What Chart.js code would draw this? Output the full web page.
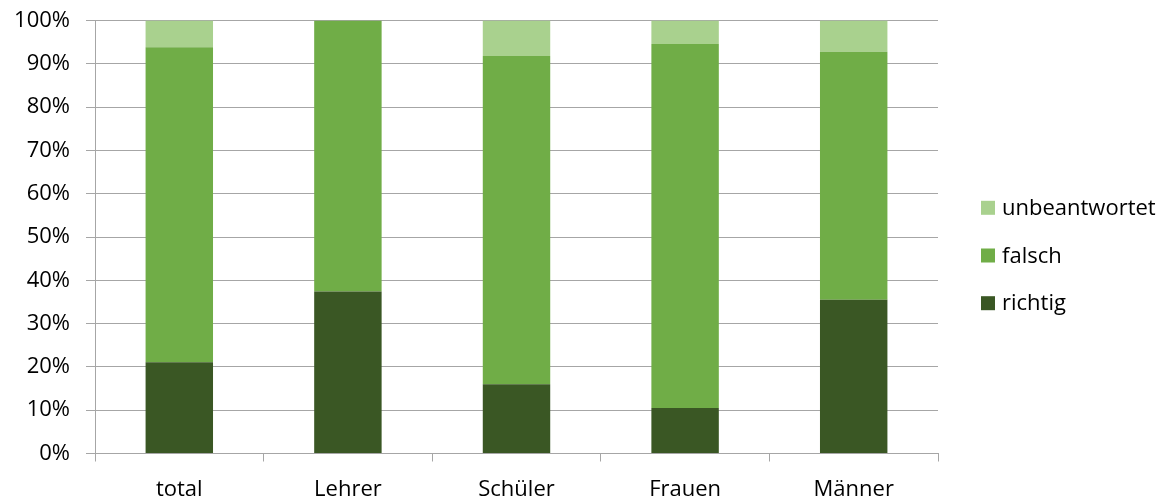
<!DOCTYPE html>
<html lang="de">

<head>
    <meta charset="UTF-8">
    <title>Antworten</title>
    <script src="https://cdn.jsdelivr.net/npm/chart.js"></script>
    <style>
        html, body { margin: 0; padding: 0; background: #fff; }
        .grafico { position: relative; width: 1168px; height: 497px; }
    </style>
</head>

<body>
    <div class="grafico">
        <canvas id="grafico_antworten"></canvas>
    </div>
</body>

<script>

// Gruppen und Anteile (in %)
const kategorien = ['total', 'Lehrer', 'Schüler', 'Frauen', 'Männer'];
const richtig = [21.1, 37.4, 16.0, 10.5, 35.5];
const falsch = [72.7, 62.6, 75.8, 84.1, 57.3];
const unbeantwortet = [6.2, 0, 8.2, 5.4, 7.2];

const y_ticks = [0, 10, 20, 30, 40, 50, 60, 70, 80, 90, 100];

const schrift = "'Open Sans', sans-serif";
const grau = '#A6A6A6';

// Legende rechts, von oben nach unten (umgekehrte Reihenfolge der Stapel)
const legendeRechts = {
  id: 'legendeRechts',
  afterDraw(chart) {
    const ctx = chart.ctx;
    const area = chart.chartArea;
    const sets = chart.data.datasets.slice().reverse();
    const x = area.right + 43;
    const abstand = 47.7;
    const mitte = 255.5;
    const start = mitte - abstand * (sets.length - 1) / 2;
    ctx.save();
    ctx.font = '22px ' + schrift;
    ctx.textBaseline = 'middle';
    sets.forEach(function (ds, i) {
      const y = start + i * abstand;
      ctx.fillStyle = ds.backgroundColor;
      ctx.fillRect(x, y - 7, 14, 14);
      ctx.fillStyle = '#000';
      ctx.fillText(ds.label, x + 21, y + 1);
    });
    ctx.restore();
  }
};

const data_antworten = {
  labels: kategorien,
  datasets: [
    { label: 'richtig', data: richtig, backgroundColor: '#3A5724' },
    { label: 'falsch', data: falsch, backgroundColor: '#70AD47' },
    { label: 'unbeantwortet', data: unbeantwortet, backgroundColor: '#A9D18E' }
  ]
};

const config_antworten = {
  type: 'bar',
  data: data_antworten,
  plugins: [legendeRechts],
  options: {
    responsive: true,
    maintainAspectRatio: false,
    animation: false,
    categoryPercentage: 1.0,
    barPercentage: 0.4,
    layout: { padding: { top: 20.5, right: 230, left: 0, bottom: 0 } },
    plugins: {
      legend: { display: false },
      tooltip: { enabled: false }
    },
    scales: {
      x: {
        stacked: true,
        afterFit: function (scale) {
          scale.height = 43.5;
          scale.paddingLeft = 0;
          scale.paddingRight = 0;
        },
        grid: { display: true, drawOnChartArea: false, drawTicks: true, tickLength: 8, color: grau, offset: true },
        border: { color: grau, width: 1 },
        ticks: { color: '#000', padding: 15, font: { family: schrift, size: 22 } }
      },
      y: {
        stacked: true,
        min: 0,
        max: 100,
        afterFit: function (scale) {
          scale.width = 95;
          scale.paddingTop = 0;
          scale.paddingBottom = 0;
        },
        afterBuildTicks: function (scale) { scale.ticks = y_ticks.map(v => ({ value: v })); },
        grid: { color: grau, tickLength: 9, drawTicks: true },
        border: { color: grau, width: 1 },
        ticks: {
          color: '#000',
          padding: 16,
          font: { family: schrift, size: 22 },
          callback: function (v) { return v + '%'; }
        }
      }
    }
  }
};

const GraficoAntworten = new Chart(
  document.getElementById('grafico_antworten'),
  config_antworten
);

</script>

</html>
